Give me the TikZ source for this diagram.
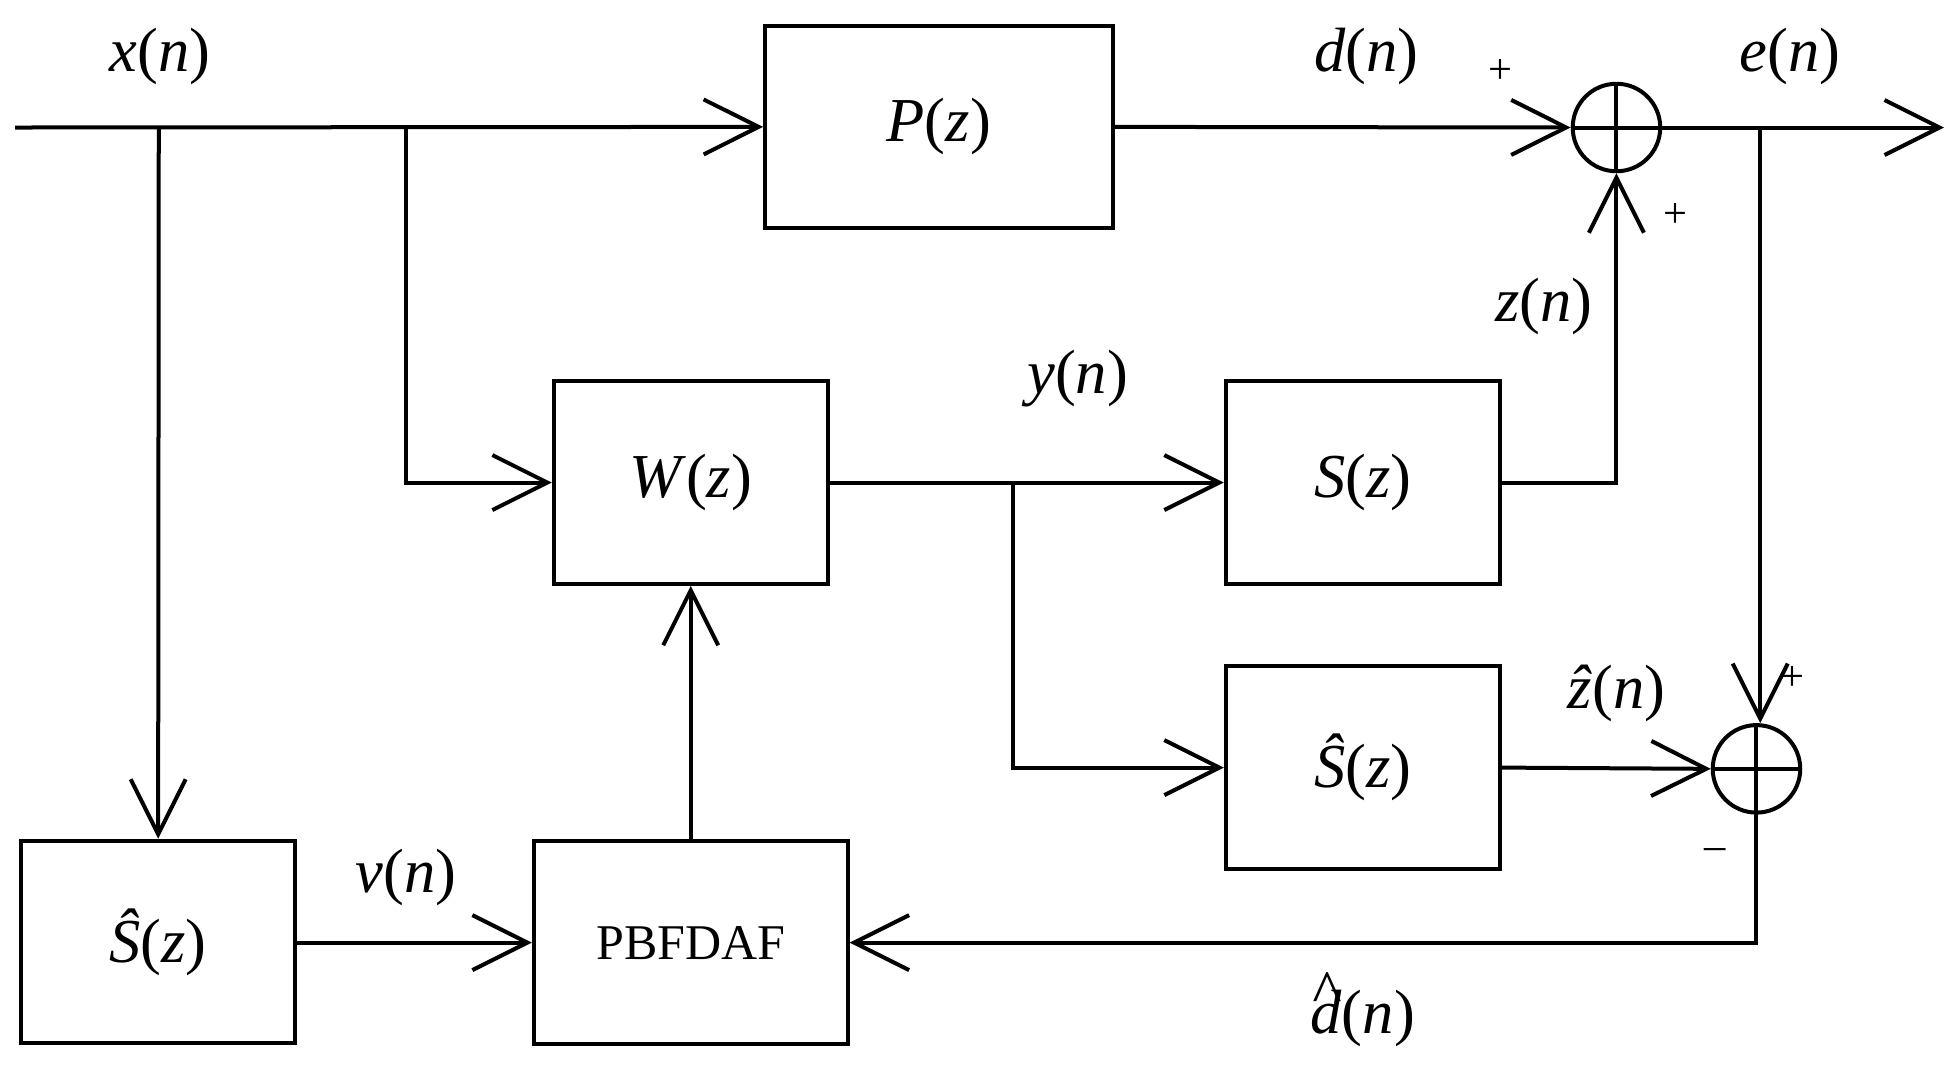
\documentclass[tikz,border=0pt]{standalone}
\usepackage{fontspec}
\setmainfont{Liberation Serif}
\usetikzlibrary{arrows.meta}
\newcommand{\vi}[1]{\textit{#1}}
\newcommand{\dhatx}{\ooalign{\vi{d}\cr\hidewidth\raisebox{0.32em}{\vi{\^{}}}\hidewidth\cr}}
\begin{document}
\begin{tikzpicture}[x=1pt,y=-1pt,line width=3.2pt,
  blk/.style={draw,minimum width=219pt,minimum height=162pt,inner sep=0pt,font=\fontsize{50}{56}\selectfont},
  sumc/.style={draw,circle,minimum size=70pt,inner sep=0pt},
  lbl/.style={font=\fontsize{50}{56}\selectfont},
  sg/.style={font=\fontsize{34}{38}\selectfont},
  ar/.style={-{Straight Barb[length=44pt,width=44pt,line width=3.2pt]}}]
\useasboundingbox (0,0) rectangle (1563,861);
\node[blk,minimum width=278pt] (P) at (751,101.5) {\vi{P}(\vi{z})};
\node[blk] (W) at (552.5,386) {\vi{W}(\vi{z})};
\node[blk] (S) at (1090,386) {\vi{S}(\vi{z})};
\node[blk] (S2) at (1090,614) {\vi{\^{S}}(\vi{z})};
\node[blk] (S1) at (126.5,753.5) {\vi{\^{S}}(\vi{z})};
\node[blk,minimum width=251pt] (PB) at (552.5,754) {\fontsize{40}{44}\selectfont PBFDAF};
\node[sumc] (A) at (1293,102) {};
\node[sumc] (B) at (1405,615) {};
\draw (A.north)--(A.south) (A.west)--(A.east);
\draw (B.north)--(B.south) (B.west)--(B.east);
\coordinate (in) at (12,102);
\coordinate (j1) at (127,102);
\coordinate (j2) at (325,102);
\coordinate (j3) at (810,387);
\coordinate (j4) at (1408,102);
\coordinate (out) at (1555,102);
\draw[ar] (in)--(P.west);
\draw[ar] (j1)--(S1.north);
\draw[ar] (j2)|-(W.west);
\draw[ar] (P.east)--(A.west);
\draw[ar] (A.east)--(out);
\draw[ar] (W.east)--(S.west);
\draw[ar] (j3)|-(S2.west);
\draw[ar] (S.east)-|(A.south);
\draw[ar] (j4)--(j4|-B.north);
\draw[ar] (S2.east)--(B.west);
\draw[ar] (B.south)|-(PB.east);
\draw[ar] (S1.east|-PB.west)--(PB.west);
\draw[ar] (PB.north)--(W.south);
\node[lbl] (lx) at (128,45) {\vi{x}(\vi{n})};
\node[lbl] (ld) at (1093,45) {\vi{d}(\vi{n})};
\node[lbl] (le) at (1432,45) {\vi{e}(\vi{n})};
\node[lbl] (ly) at (862,303) {\vi{y}(\vi{n})};
\node[lbl] (lz) at (1235,245) {\vi{z}(\vi{n})};
\node[lbl] (lzh) at (1293,555) {\vi{\^{z}}(\vi{n})};
\node[lbl] (lv) at (325,702) {\vi{v}(\vi{n})};
\node[lbl] (ldh) at (1090,815) {\dhatx(\vi{n})};
\node[sg] (p1) at (1200,57) {+};
\node[sg] (p2) at (1340,172) {+};
\node[sg] (p3) at (1434,543) {+};
\node[sg] (m1) at (1372,683) {\textendash};
\end{tikzpicture}
\end{document}
